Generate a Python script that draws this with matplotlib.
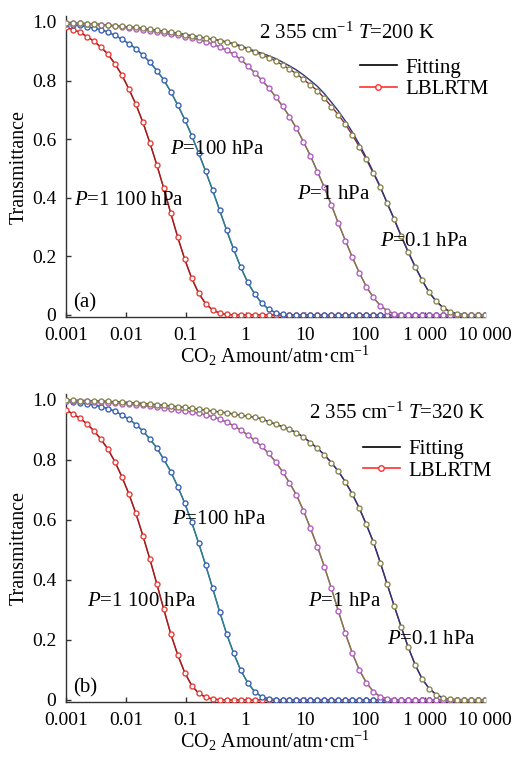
import numpy as np
import matplotlib.pyplot as plt
from matplotlib.lines import Line2D
from matplotlib.ticker import NullLocator

plt.rcParams['font.family'] = 'Liberation Serif'
plt.rcParams['mathtext.fontset'] = 'custom'
plt.rcParams['mathtext.rm'] = 'Liberation Serif'
plt.rcParams['mathtext.it'] = 'Liberation Serif:italic'

# CO2 amount grid (atm cm), evenly spaced in log from 0.001 to 10 000
amount = np.logspace(-3, 4, 61)

x_ticks = [0.001, 0.01, 0.1, 1, 10, 100, 1000, 10000]
x_ticklabels = ['0.001', '0.01', '0.1', '1', '10', '100', '1 000', '10 000']
y_ticks = [0, 0.2, 0.4, 0.6, 0.8, 1.0]
y_ticklabels = ['0', '0.2', '0.4', '0.6', '0.8', '1.0']

# ---- panel (a), T = 200 K ----
a_p1100 = [0.982, 0.973, 0.965, 0.950, 0.934, 0.914, 0.890, 0.857, 0.819, 0.771,
           0.719, 0.658, 0.588, 0.512, 0.432, 0.347, 0.265, 0.190, 0.125, 0.074,
           0.038, 0.017, 0.006, 0.002, 0.0, 0.0, 0.0, 0.0, 0.0, 0.0,
           0.0, 0.0, 0.0, 0.0, 0.0, 0.0, 0.0, 0.0, 0.0, 0.0,
           0.0, 0.0, 0.0, 0.0, 0.0, 0.0, 0.0, 0.0, 0.0, 0.0,
           0.0, 0.0, 0.0, 0.0, 0.0, 0.0, 0.0, 0.0, 0.0, 0.0, 0.0]
a_p100 = [0.993, 0.991, 0.988, 0.984, 0.979, 0.973, 0.966, 0.954, 0.941, 0.926,
          0.909, 0.887, 0.863, 0.834, 0.802, 0.762, 0.716, 0.667, 0.612, 0.552,
          0.490, 0.425, 0.357, 0.289, 0.224, 0.164, 0.112, 0.072, 0.041, 0.020,
          0.008, 0.002, 0.0, 0.0, 0.0, 0.0, 0.0, 0.0, 0.0, 0.0,
          0.0, 0.0, 0.0, 0.0, 0.0, 0.0, 0.0, 0.0, 0.0, 0.0,
          0.0, 0.0, 0.0, 0.0, 0.0, 0.0, 0.0, 0.0, 0.0, 0.0, 0.0]
a_p1 = [0.997, 0.996, 0.995, 0.994, 0.992, 0.990, 0.988, 0.986, 0.983, 0.980,
        0.977, 0.974, 0.970, 0.966, 0.962, 0.958, 0.954, 0.950, 0.946, 0.940,
        0.933, 0.924, 0.915, 0.903, 0.890, 0.872, 0.851, 0.827, 0.802, 0.776,
        0.745, 0.713, 0.677, 0.637, 0.591, 0.543, 0.489, 0.435, 0.375, 0.313,
        0.254, 0.197, 0.144, 0.097, 0.060, 0.032, 0.014, 0.004, 0.001, 0.0,
        0.0, 0.0, 0.0, 0.0, 0.0, 0.0, 0.0, 0.0, 0.0, 0.0, 0.0]
a_p01 = [0.997, 0.996, 0.995, 0.994, 0.993, 0.991, 0.989, 0.987, 0.985, 0.983,
         0.981, 0.978, 0.975, 0.972, 0.968, 0.965, 0.961, 0.957, 0.953, 0.949,
         0.945, 0.941, 0.936, 0.931, 0.924, 0.916, 0.907, 0.897, 0.888, 0.878,
         0.867, 0.853, 0.839, 0.823, 0.804, 0.785, 0.765, 0.740, 0.711, 0.683,
         0.651, 0.614, 0.574, 0.531, 0.484, 0.436, 0.381, 0.327, 0.270, 0.216,
         0.165, 0.119, 0.077, 0.047, 0.025, 0.011, 0.004, 0.001, 0.0, 0.0, 0.0]
# fitted curve for 0.1 hPa departs a little from LBLRTM
a_p01_fit = [0.997, 0.996, 0.995, 0.994, 0.993, 0.991, 0.989, 0.987, 0.985, 0.983,
             0.981, 0.978, 0.975, 0.972, 0.968, 0.965, 0.961, 0.957, 0.953, 0.949,
             0.945, 0.941, 0.937, 0.932, 0.926, 0.919, 0.910, 0.901, 0.893, 0.885,
             0.875, 0.863, 0.850, 0.836, 0.819, 0.800, 0.780, 0.755, 0.726, 0.696,
             0.662, 0.624, 0.582, 0.537, 0.488, 0.438, 0.381, 0.325, 0.268, 0.214,
             0.164, 0.118, 0.077, 0.047, 0.025, 0.011, 0.004, 0.001, 0.0, 0.0, 0.0]

# ---- panel (b), T = 320 K ----
b_p1100 = [0.967, 0.953, 0.939, 0.920, 0.897, 0.869, 0.836, 0.794, 0.744, 0.687,
           0.622, 0.548, 0.470, 0.387, 0.302, 0.220, 0.150, 0.091, 0.048, 0.022,
           0.009, 0.003, 0.001, 0.0, 0.0, 0.0, 0.0, 0.0, 0.0, 0.0,
           0.0, 0.0, 0.0, 0.0, 0.0, 0.0, 0.0, 0.0, 0.0, 0.0,
           0.0, 0.0, 0.0, 0.0, 0.0, 0.0, 0.0, 0.0, 0.0, 0.0,
           0.0, 0.0, 0.0, 0.0, 0.0, 0.0, 0.0, 0.0, 0.0, 0.0, 0.0]
b_p100 = [0.997, 0.994, 0.991, 0.987, 0.983, 0.978, 0.971, 0.962, 0.950, 0.936,
          0.918, 0.897, 0.870, 0.840, 0.802, 0.761, 0.711, 0.656, 0.592, 0.522,
          0.449, 0.372, 0.294, 0.220, 0.156, 0.100, 0.058, 0.028, 0.011, 0.004,
          0.001, 0.0, 0.0, 0.0, 0.0, 0.0, 0.0, 0.0, 0.0, 0.0,
          0.0, 0.0, 0.0, 0.0, 0.0, 0.0, 0.0, 0.0, 0.0, 0.0,
          0.0, 0.0, 0.0, 0.0, 0.0, 0.0, 0.0, 0.0, 0.0, 0.0, 0.0]
b_p1 = [0.998, 0.997, 0.996, 0.995, 0.994, 0.993, 0.991, 0.990, 0.988, 0.986,
        0.984, 0.982, 0.979, 0.976, 0.973, 0.970, 0.967, 0.963, 0.960, 0.956,
        0.950, 0.944, 0.936, 0.926, 0.914, 0.900, 0.884, 0.865, 0.846, 0.822,
        0.794, 0.761, 0.724, 0.683, 0.631, 0.572, 0.511, 0.444, 0.372, 0.296,
        0.222, 0.156, 0.100, 0.058, 0.028, 0.011, 0.004, 0.001, 0.0, 0.0,
        0.0, 0.0, 0.0, 0.0, 0.0, 0.0, 0.0, 0.0, 0.0, 0.0, 0.0]
b_p01 = [0.999, 0.999, 0.998, 0.998, 0.997, 0.996, 0.995, 0.994, 0.993, 0.991,
         0.990, 0.988, 0.986, 0.984, 0.982, 0.980, 0.977, 0.975, 0.972, 0.969,
         0.966, 0.963, 0.960, 0.957, 0.953, 0.949, 0.946, 0.942, 0.937, 0.928,
         0.919, 0.911, 0.902, 0.891, 0.876, 0.858, 0.839, 0.817, 0.791, 0.762,
         0.727, 0.686, 0.639, 0.585, 0.527, 0.458, 0.385, 0.313, 0.243, 0.176,
         0.117, 0.070, 0.038, 0.018, 0.007, 0.002, 0.001, 0.0, 0.0, 0.0, 0.0]

# marker colour, LBLRTM line colour, fitting line colour
styles = [('#e8403c', '#e03a36', '#9b1f1f'),
          ('#3c63b8', '#3c63b8', '#2b8088'),
          ('#b35fc6', '#b35fc6', '#7f7b3d'),
          ('#8a8850', '#8e2a2a', '#2b3585')]

panels = [
    dict(lbl=[a_p1100, a_p100, a_p1, a_p01], fit=[a_p1100, a_p100, a_p1, a_p01_fit],
         rect=[0.1282, 0.5814, 0.8136, 0.3974], title='2 355 cm$^{-1}$ $T$=200 K',
         title_xy=(1460, 0.962), tag='(a)', leg=(0.702, 0.861),
         notes=[('$P$=100 hPa', 0.0546, 0.563), ('$P$=1 100 hPa', 0.00136, 0.392),
                ('$P$=1 hPa', 7.2, 0.41), ('$P$=0.1 hPa', 176, 0.249)]),
    dict(lbl=[b_p1100, b_p100, b_p1, b_p01], fit=[b_p1100, b_p100, b_p1, b_p01],
         rect=[0.1282, 0.0734, 0.8136, 0.4069], title='2 355 cm$^{-1}$ $T$=320 K',
         title_xy=(10000, 0.957), tag='(b)', leg=(0.709, 0.853),
         notes=[('$P$=100 hPa', 0.059, 0.60), ('$P$=1 100 hPa', 0.00224, 0.327),
                ('$P$=1 hPa', 11.0, 0.327), ('$P$=0.1 hPa', 231, 0.20)]),
]

fig = plt.figure(figsize=(5.15, 7.58), dpi=100)

for p in panels:
    ax = fig.add_axes(p['rect'])
    for (mc, lc, fc), yl, yf in zip(styles, p['lbl'], p['fit']):
        ax.plot(amount, yl, color=lc, lw=1.0, zorder=2)
        ax.plot(amount, yf, color=fc, lw=1.0, zorder=2.5)
        ax.plot(amount, yl, ls='none', marker='o', ms=3.6, mew=1.0,
                mec=mc, mfc='white', zorder=3)

    ax.set_xscale('log')
    ax.set_xlim(1e-3, 1e4)
    ax.set_ylim(-0.008, 1.02)
    ax.set_xticks(x_ticks)
    ax.set_xticklabels(x_ticklabels)
    ax.xaxis.set_minor_locator(NullLocator())
    ax.set_yticks(y_ticks)
    ax.set_yticklabels(y_ticklabels)
    ax.tick_params(direction='in', length=3.5, width=1, labelsize=14,
                   color='#333333')
    ax.tick_params(axis='x', pad=7)
    ax.tick_params(axis='y', pad=7)
    for s in ['top', 'right']:
        ax.spines[s].set_visible(False)
    for s in ['left', 'bottom']:
        ax.spines[s].set_color('#333333')
        ax.spines[s].set_linewidth(1.0)

    ax.set_xlabel('CO$_2$ Amount/atm·cm$^{-1}$', fontsize=14.5, labelpad=0)
    ax.set_ylabel('Transmittance', fontsize=14.5)
    ax.yaxis.set_label_coords(-0.09, 0.5)

    ax.text(p['title_xy'][0], p['title_xy'][1], p['title'], fontsize=15,
            ha='right', va='center')
    for txt, xx, yy in p['notes']:
        ax.text(xx, yy, txt, fontsize=15, ha='left', va='center', zorder=5)
    ax.text(0.00131, 0.04, p['tag'], fontsize=15, ha='left', va='center')

    handles = [Line2D([], [], color='black', lw=1.2),
               Line2D([], [], color='#ff3030', lw=1.2, marker='o', ms=4,
                      mfc='white', mec='#ff3030')]
    ax.legend(handles, ['Fitting', 'LBLRTM'], loc='upper left',
              bbox_to_anchor=p['leg'], frameon=False, borderpad=0,
              borderaxespad=0, handlelength=1.75, handletextpad=0.4,
              labelspacing=0.1, fontsize=15)

fig.savefig('out.png', dpi=100)
